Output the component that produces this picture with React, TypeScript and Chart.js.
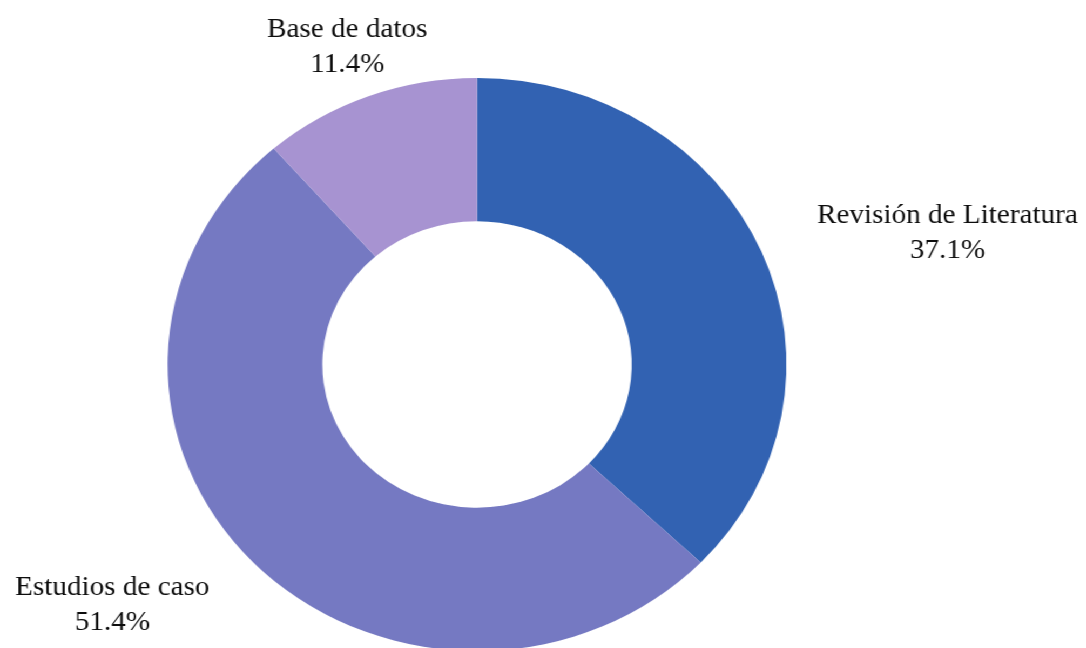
import React, { useEffect, useRef } from "react";
import { Chart, registerables } from "chart.js";

Chart.register(...registerables);

const categories = ["Revisión de Literatura", "Estudios de caso", "Base de datos"];
const shares = [37.1, 51.4, 11.4];
const sliceColors = ["#3262B2", "#7579C2", "#A793D1"];

const STRETCH = 1.08;
const CANVAS_W = 1006;
const CANVAS_H = 660;
const LABEL_FONT = '27px "Liberation Serif", "Times New Roman", Times, serif';

const outsideLabels = {
  id: "outsideLabels",
  afterDraw(chart: any) {
    const ctx = chart.ctx;
    const meta = chart.getDatasetMeta(0);
    const lineH = 35;
    ctx.save();
    ctx.font = LABEL_FONT;
    ctx.fillStyle = "#0d0d0d";
    ctx.textAlign = "center";
    ctx.textBaseline = "middle";
    meta.data.forEach((arc: any, i: number) => {
      const p = arc.getProps(["x", "y", "startAngle", "endAngle", "outerRadius"], true);
      const mid = (p.startAngle + p.endAngle) / 2;
      const R = p.outerRadius + 56;
      const c = Math.cos(mid);
      const s = Math.sin(mid);
      const px = p.x + c * R;
      const py = p.y + s * R + 4;
      const lines = [categories[i], shares[i].toFixed(1) + "%"];
      const w = Math.max(...lines.map((t) => ctx.measureText(t).width));
      let cx = px;
      if (c > 0.5) cx = px + w / 2;
      else if (c < -0.5) cx = px - w / 2;
      ctx.fillText(lines[0], cx, py - lineH / 2);
      ctx.fillText(lines[1], cx, py + lineH / 2);
    });
    ctx.restore();
  },
};

export default function App() {
  const ref = useRef<HTMLCanvasElement | null>(null);
  useEffect(() => {
    document.body.style.margin = "0";
    const canvas = ref.current;
    if (!canvas) return;
    const cx = 441.7;
    const cy = 364.5;
    const r = 286.5;
    const chart = new Chart(canvas, {
      type: "doughnut",
      data: {
        labels: categories,
        datasets: [
          {
            data: shares,
            backgroundColor: sliceColors,
            borderWidth: 0,
          },
        ],
      },
      options: {
        responsive: false,
        animation: false,
        cutout: "50%",
        layout: {
          padding: {
            left: cx - r,
            right: CANVAS_W - (cx + r),
            top: cy - r,
            bottom: CANVAS_H - (cy + r),
          },
        },
        plugins: {
          legend: { display: false },
          tooltip: { enabled: false },
        },
      },
      plugins: [outsideLabels],
    });
    let alive = true;
    if ((document as any).fonts) {
      (document as any).fonts
        .load(LABEL_FONT, "Revisión 37.1%")
        .then(() => {
          if (alive) chart.draw();
        })
        .catch(() => {});
    }
    return () => {
      alive = false;
      chart.destroy();
    };
  }, []);

  return (
    <div
      style={{
        position: "fixed",
        left: 0,
        top: 0,
        width: CANVAS_W,
        height: CANVAS_H,
        transform: `scaleX(${STRETCH})`,
        transformOrigin: "0 0",
        background: "#ffffff",
      }}
    >
      <canvas ref={ref} width={CANVAS_W} height={CANVAS_H} style={{ display: "block" }} />
    </div>
  );
}
